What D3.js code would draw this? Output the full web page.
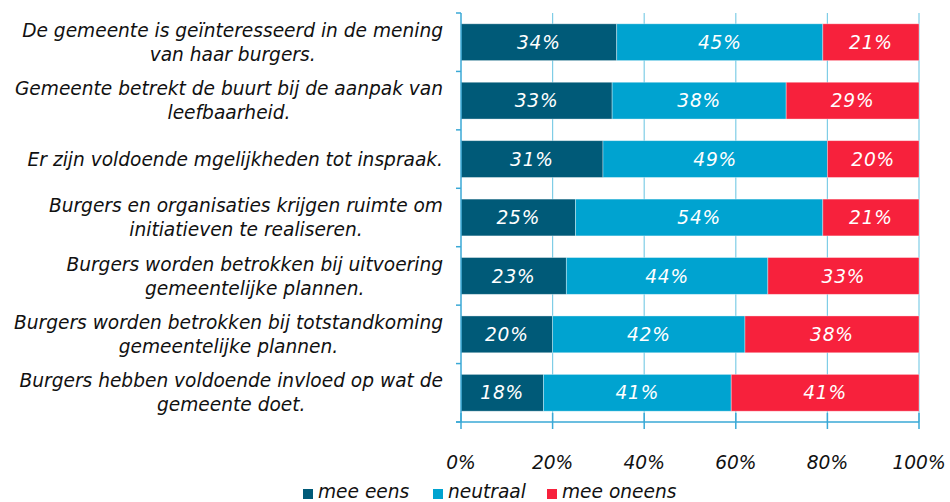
<!DOCTYPE html>
<html>
<head>
<meta charset="utf-8">
<script src="https://cdn.jsdelivr.net/npm/d3@7"></script>
<style>
  body { margin: 0; background: #fff; }
  text { font-family: "DejaVu Sans", Verdana, sans-serif; font-style: italic; }
</style>
</head>
<body>
<svg id="chart" width="950" height="502"></svg>
<script>
// statements, top to bottom
const categories = [
    ["De gemeente is geïnteresseerd in de mening", "van haar burgers."],
    ["Gemeente betrekt de buurt bij de aanpak van", "leefbaarheid."],
    ["Er zijn voldoende mgelijkheden tot inspraak."],
    ["Burgers en organisaties krijgen ruimte om", "initiatieven te realiseren."],
    ["Burgers worden betrokken bij uitvoering", "gemeentelijke plannen."],
    ["Burgers worden betrokken bij totstandkoming", "gemeentelijke plannen."],
    ["Burgers hebben voldoende invloed op wat de", "gemeente doet."]
];
const meeEens   = [34, 33, 31, 25, 23, 20, 18];
const neutraal  = [45, 38, 49, 54, 44, 42, 41];
const meeOneens = [21, 29, 20, 21, 33, 38, 41];
const seriesNames = ["mee eens", "neutraal", "mee oneens"];
const colors = ["#005a78", "#00a3d0", "#f7213c"];
const xTicks = [0, 20, 40, 60, 80, 100];

const svg = d3.select("#chart");
const margin = { top: 13, left: 461, right: 31, bottom: 80 };
const width = 950 - margin.left - margin.right;
const height = 502 - margin.top - margin.bottom;
const fs = "18.6px";

const rows = categories.map((c, i) => ({ idx: i, vals: [meeEens[i], neutraal[i], meeOneens[i]] }));

const x = d3.scaleLinear().domain([0, 100]).range([0, width]);
const y = d3.scaleBand().domain(d3.range(categories.length)).range([0, height]).paddingInner(0.37).paddingOuter(0.185);
const yb = d3.scaleBand().domain(d3.range(categories.length)).range([0, height]);

const g = svg.append("g").attr("transform", `translate(${margin.left},${margin.top})`);

// gridlines
g.selectAll(".grid").data(xTicks.slice(1)).enter().append("line")
    .attr("x1", d => x(d)).attr("x2", d => x(d))
    .attr("y1", 0).attr("y2", height)
    .attr("stroke", "#7fcde6").attr("stroke-width", 1.2);

// stacked bars
const stack = rows.map(r => {
    let acc = 0;
    return r.vals.map((v, k) => { const s = { row: r.idx, k, v, x0: acc, x1: acc + v }; acc += v; return s; });
}).flat();

g.selectAll(".bar").data(stack).enter().append("rect")
    .attr("x", d => x(d.x0))
    .attr("width", d => x(d.x1) - x(d.x0))
    .attr("y", d => y(d.row))
    .attr("height", y.bandwidth())
    .attr("fill", d => colors[d.k])
    .attr("stroke", "rgba(255,255,255,0.45)")
    .attr("stroke-width", 0.8);

g.selectAll(".val").data(stack).enter().append("text")
    .attr("x", d => x((d.x0 + d.x1) / 2))
    .attr("y", d => y(d.row) + y.bandwidth() / 2)
    .attr("dy", "0.36em")
    .attr("text-anchor", "middle")
    .attr("fill", "#fff")
    .style("font-size", fs)
    .style("letter-spacing", "0.8px")
    .text(d => d.v + "%");

// left axis
g.append("line").attr("x1", 0).attr("x2", 0).attr("y1", 0).attr("y2", height)
    .attr("stroke", "#3aa9d6").attr("stroke-width", 1.5);
g.selectAll(".ytick").data(d3.range(categories.length + 1)).enter().append("line")
    .attr("x1", -5).attr("x2", 0)
    .attr("y1", d => d * yb.step()).attr("y2", d => d * yb.step())
    .attr("stroke", "#3aa9d6").attr("stroke-width", 1.5);

// bottom axis
g.append("line").attr("x1", -5).attr("x2", width).attr("y1", height).attr("y2", height)
    .attr("stroke", "#3aa9d6").attr("stroke-width", 1.5);
g.selectAll(".xtick").data(xTicks).enter().append("line")
    .attr("x1", d => x(d)).attr("x2", d => x(d))
    .attr("y1", height - 9).attr("y2", height + 7)
    .attr("stroke", "#3aa9d6").attr("stroke-width", 1.5);
g.selectAll(".xlab").data(xTicks).enter().append("text")
    .attr("x", d => x(d)).attr("y", height + 40)
    .attr("dy", "0.36em")
    .attr("text-anchor", "middle")
    .attr("fill", "#111")
    .style("font-size", fs)
    .text(d => d + "%");

// category labels: lines centered, block right-aligned
const labelRight = -18;
categories.forEach((lines, i) => {
    const cy = yb(i) + yb.bandwidth() / 2;
    const lg = g.append("g");
    const texts = lines.map((t, j) => lg.append("text")
        .attr("y", cy + (j - (lines.length - 1) / 2) * 24)
        .attr("dy", "0.36em")
        .attr("text-anchor", "middle")
        .attr("fill", "#111")
        .style("font-size", fs)
        .text(t));
    const maxW = d3.max(texts, t => t.node().getComputedTextLength());
    texts.forEach(t => t.attr("x", labelRight - maxW / 2));
});

// legend
const legendX = [303, 433, 547];
const lgd = svg.append("g").attr("transform", "translate(0,491)");
seriesNames.forEach((n, k) => {
    lgd.append("rect").attr("x", legendX[k]).attr("y", -2).attr("width", 10).attr("height", 10).attr("fill", colors[k]);
    lgd.append("text").attr("x", legendX[k] + 15).attr("y", 0).attr("dy", "0.36em")
        .attr("fill", "#111").style("font-size", fs).text(n);
});
</script>
</body>
</html>
